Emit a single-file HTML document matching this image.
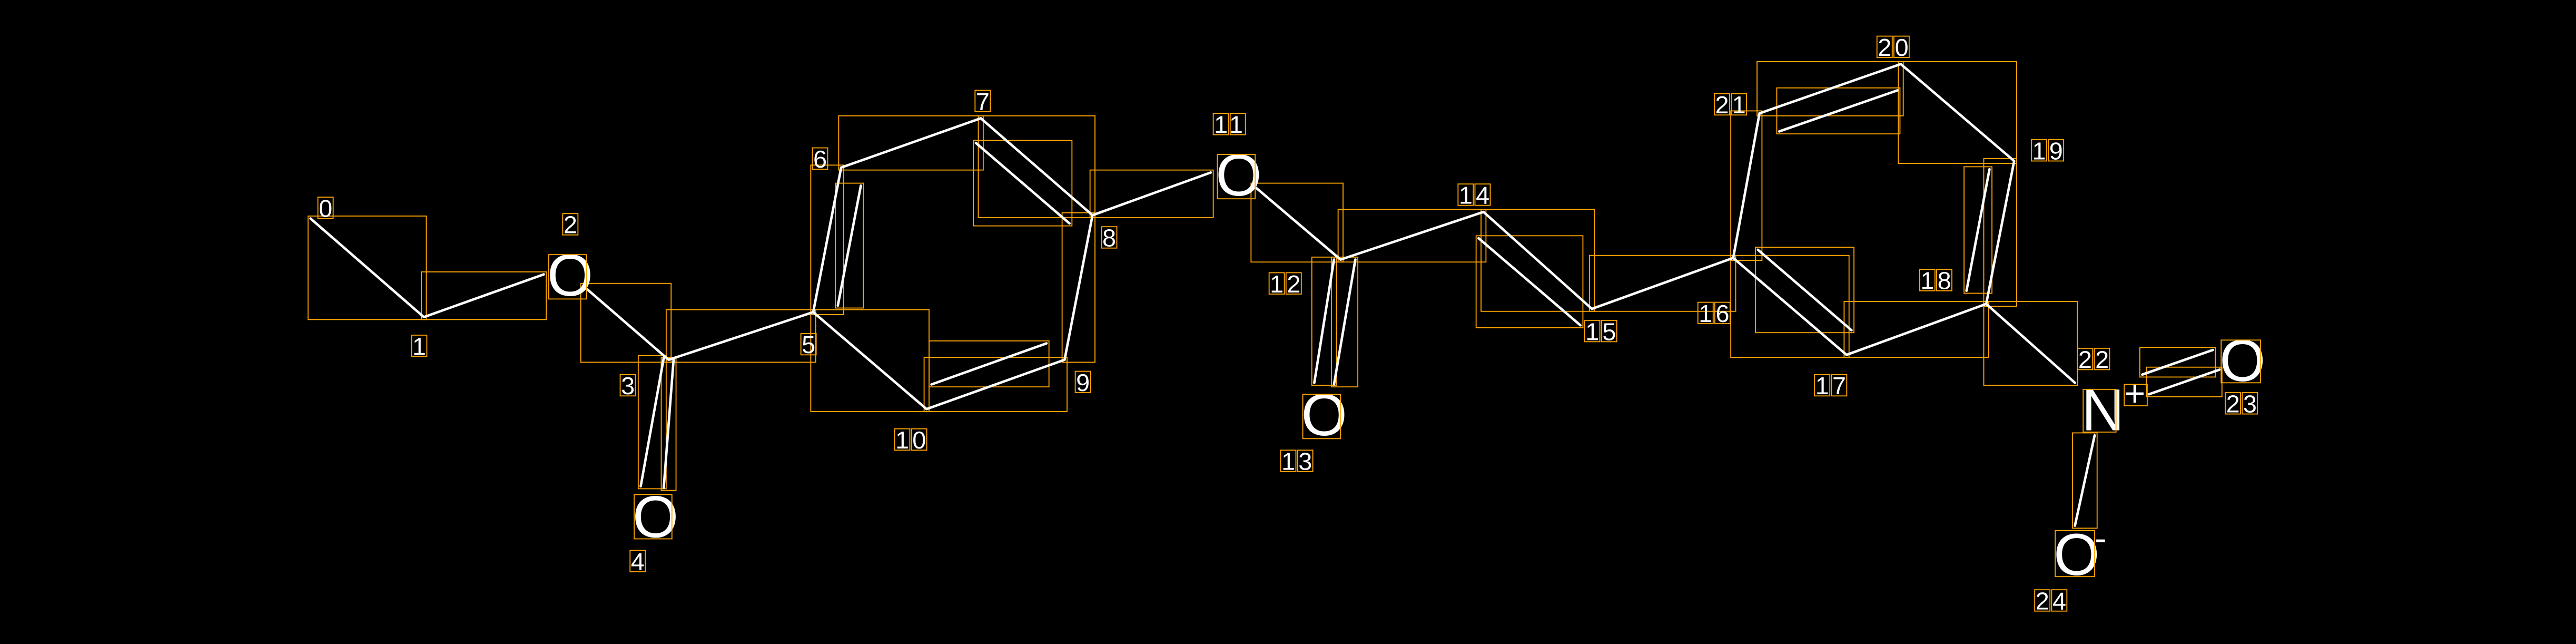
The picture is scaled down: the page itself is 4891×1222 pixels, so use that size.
<!DOCTYPE html>
<html><head><meta charset="utf-8"><style>
html,body{margin:0;padding:0;background:#000;width:4891px;height:1222px;overflow:hidden}
svg{display:block}
text{font-family:"Liberation Sans","DejaVu Sans",sans-serif;fill:#fff}
</style></head><body>
<svg id="s" width="4891" height="1222" viewBox="0 0 1568 392" preserveAspectRatio="none" xmlns="http://www.w3.org/2000/svg">
<rect x="0" y="0" width="1568" height="392" fill="#000"/>
<g id="boxes" fill="none" stroke="#ffa500" stroke-width="0.6"></g>
<g id="bonds" stroke="#fff" stroke-width="1.5" stroke-linecap="round"></g>
<g font-size="36">
<text x="333" y="180">O</text>
<text x="385" y="327">O</text>
<text x="740" y="119">O</text>
<text x="792" y="265">O</text>
<text x="1267" y="262">N</text>
<text x="1351" y="232">O</text>
<text x="1250" y="350">O</text>
</g>
<text x="1293" y="247" font-size="22">+</text>
<text x="1275" y="335" font-size="22">-</text>
<g font-size="15" letter-spacing="2">
<text x="194" y="132">0</text>
<text x="251" y="216">1</text>
<text x="343" y="142">2</text>
<text x="378" y="240">3</text>
<text x="384" y="347">4</text>
<text x="488" y="215">5</text>
<text x="495" y="102">6</text>
<text x="594" y="67">7</text>
<text x="671" y="150">8</text>
<text x="655" y="238">9</text>
<text x="545" y="273">10</text>
<text x="739" y="81">11</text>
<text x="773" y="178">12</text>
<text x="780" y="286">13</text>
<text x="888" y="124">14</text>
<text x="965" y="207">15</text>
<text x="1034" y="196">16</text>
<text x="1105" y="240">17</text>
<text x="1169" y="176">18</text>
<text x="1237" y="97">19</text>
<text x="1143" y="34">20</text>
<text x="1044" y="69">21</text>
<text x="1265" y="224">22</text>
<text x="1355" y="251">23</text>
<text x="1239" y="371">24</text>
</g>
<g id="lb" fill="none" stroke="#ffa500" stroke-width="0.6">
<rect x="334" y="155" width="23" height="27"/>
<rect x="386" y="301" width="23" height="27"/>
<rect x="741" y="94" width="23" height="27"/>
<rect x="793" y="240" width="23" height="27"/>
<rect x="1268" y="237" width="20" height="26"/>
<rect x="1352" y="207" width="24" height="26"/>
<rect x="1251" y="323" width="24" height="28"/>
<rect x="1293" y="234" width="14" height="13"/>
</g>
</svg>
<script>
var B=[
[189,133,258,193],[258,193,331,167],[355,174,407,219],[404,218,390,296],[410,219,404,297],
[407,219,495,190],[495,190,512,102],[510,186,524,113],[512,102,597,72],[597,72,665,131],[594,87,651,136],
[665,131,648,219],[648,219,564,249],[567,234,637,209],[564,249,495,190],[665,131,737,105],
[763,113,816,158],[812,158,800,233],[825,158,812,234],[816,158,903,129],[903,129,969,188],[900,145,962,198],
[969,188,1055,157],[1055,157,1124,216],[1070,152,1127,201],[1124,216,1209,185],[1209,185,1226,98],[1197,177,1211,103],
[1226,98,1157,39],[1157,39,1071,69],[1155,55,1083,80],[1071,69,1055,157],[1209,185,1263,233],
[1304,228,1347,213],[1308,240,1351,225],[1275,265,1263,320]];
var ns="http://www.w3.org/2000/svg",g=document.getElementById('bonds'),bx=document.getElementById('boxes');
B.forEach(function(b){
 var l=document.createElementNS(ns,'line');l.setAttribute('x1',b[0]);l.setAttribute('y1',b[1]);l.setAttribute('x2',b[2]);l.setAttribute('y2',b[3]);g.appendChild(l);
 var r=document.createElementNS(ns,'rect');var x=Math.min(b[0],b[2])-1.5,y=Math.min(b[1],b[3])-1.5;
 r.setAttribute('x',x);r.setAttribute('y',y);r.setAttribute('width',Math.abs(b[0]-b[2])+3);r.setAttribute('height',Math.abs(b[1]-b[3])+3);bx.appendChild(r);
});
var lb=document.getElementById('lb');
document.querySelectorAll('g[font-size="15"] text').forEach(function(t){
 var s=t.textContent,x=+t.getAttribute('x'),y=+t.getAttribute('y');
 for(var i=0;i<s.length;i++){var r=document.createElementNS(ns,'rect');r.setAttribute('x',x+i*10.3-0.5);r.setAttribute('y',y-12);r.setAttribute('width',9.3);r.setAttribute('height',13);lb.appendChild(r);}
});
</script>
</body></html>
